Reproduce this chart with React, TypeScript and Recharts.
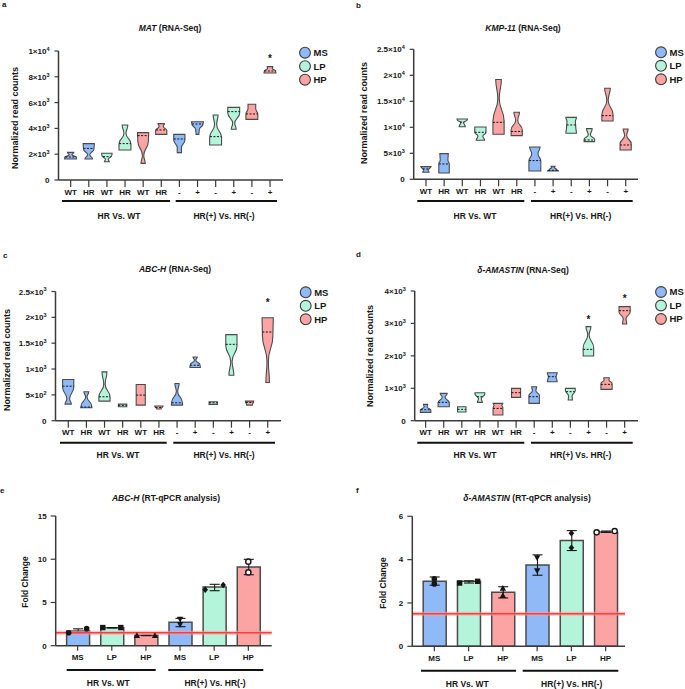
import React from 'react';
import { ComposedChart, Bar, XAxis, YAxis, Scatter, ErrorBar, ReferenceLine, Cell } from 'recharts';

const FONT = '"Liberation Sans", Arial, Helvetica, sans-serif';
const INK = '#161616';
const AXIS = '#3a3a3a';
const COLORS: Record<string, string> = { MS: '#8fb9f7', LP: '#b4f4db', HP: '#fca4a4' };

// ---------- RNA-Seq violin panels ----------
const violinTickLabels = ['WT', 'HR', 'WT', 'HR', 'WT', 'HR', '-', '+', '-', '+', '-', '+'];
const violinGroups = ['MS', 'MS', 'LP', 'LP', 'HP', 'HP', 'MS', 'MS', 'LP', 'LP', 'HP', 'HP'];

// each violin: [value, relative density width] from bottom to top
const matProfiles: number[][][] = [
  [[1630, 0.85], [1750, 0.85], [1950, 0.2], [2140, 0.45]],
  [[1630, 0.55], [1950, 0.15], [2400, 0.75], [2820, 0.8]],
  [[1420, 0.35], [1600, 0.2], [1900, 0.7], [2070, 0.75]],
  [[2330, 0.85], [2800, 0.85], [3600, 0.15], [4260, 0.4]],
  [[1290, 0.3], [1900, 0.1], [3000, 0.75], [3670, 0.8]],
  [[3540, 0.8], [3850, 0.8], [4150, 0.3], [4370, 0.45]],
  [[2120, 0.3], [2500, 0.3], [3100, 0.8], [3540, 0.8]],
  [[3540, 0.2], [3900, 0.25], [4350, 0.8], [4520, 0.85]],
  [[2710, 0.85], [3300, 0.85], [4300, 0.15], [5040, 0.35]],
  [[3930, 0.35], [4400, 0.15], [5200, 0.85], [5630, 0.85]],
  [[4700, 0.85], [5100, 0.85], [5550, 0.55], [5870, 0.55]],
  [[8290, 0.85], [8450, 0.8], [8650, 0.35], [8790, 0.4]],
];
const matMedians = [1780, 2450, 1810, 2820, 3440, 3880, 3180, 4340, 3360, 5300, 5120, 8450];
const matStars: Record<number, number> = { 11: 9560 };

const kmpProfiles: number[][][] = [
  [[1350, 0.45], [1800, 0.3], [2200, 0.6], [2440, 0.75]],
  [[1220, 0.75], [2900, 0.75], [3700, 0.55], [4940, 0.6]],
  [[10100, 0.45], [10900, 0.2], [11400, 0.7], [11600, 0.75]],
  [[7500, 0.6], [8300, 0.35], [9000, 0.8], [10060, 0.8]],
  [[8650, 0.8], [11200, 0.8], [15500, 0.1], [19200, 0.4]],
  [[8400, 0.8], [9500, 0.8], [11300, 0.15], [12900, 0.4]],
  [[1600, 0.85], [3500, 0.85], [4900, 0.45], [6200, 0.75]],
  [[1600, 0.8], [1900, 0.5], [2300, 0.15], [2500, 0.3]],
  [[8850, 0.75], [10200, 0.65], [11100, 0.6], [11900, 0.75]],
  [[7240, 0.75], [7700, 0.75], [8500, 0.15], [9740, 0.4]],
  [[11200, 0.8], [12400, 0.8], [15200, 0.1], [17500, 0.4]],
  [[5640, 0.8], [6800, 0.8], [8400, 0.15], [9680, 0.35]],
];
const kmpMedians = [2000, 2950, 11000, 9040, 10960, 9200, 3600, 1730, 10450, 7560, 12240, 6600];
const kmpStars: Record<number, number> = {};

const abcSeqProfiles: number[][][] = [
  [[321, 0.45], [420, 0.2], [650, 0.8], [797, 0.8]],
  [[251, 0.8], [290, 0.75], [460, 0.1], [559, 0.35]],
  [[379, 0.8], [460, 0.8], [700, 0.1], [945, 0.35]],
  [[270, 0.6], [321, 0.6]],
  [[302, 0.65], [700, 0.65]],
  [[225, 0.3], [283, 0.6]],
  [[302, 0.8], [360, 0.75], [560, 0.1], [720, 0.3]],
  [[1028, 0.75], [1080, 0.7], [1170, 0.1], [1234, 0.3]],
  [[315, 0.6], [366, 0.6]],
  [[880, 0.35], [1150, 0.1], [1450, 0.8], [1665, 0.8]],
  [[302, 0.4], [379, 0.6]],
  [[739, 0.25], [1150, 0.1], [1650, 0.75], [1992, 0.8]],
];
const abcSeqMedians = [668, 264, 463, 296, 495, 257, 347, 1073, 347, 1478, 353, 1716];
const abcSeqStars: Record<number, number> = { 11: 2326 };

const amaSeqProfiles: number[][][] = [
  [[257, 0.75], [330, 0.75], [420, 0.2], [504, 0.3]],
  [[432, 0.8], [560, 0.8], [720, 0.2], [843, 0.5]],
  [[267, 0.6], [432, 0.6]],
  [[566, 0.35], [680, 0.2], [820, 0.7], [864, 0.7]],
  [[175, 0.7], [400, 0.7], [480, 0.55], [535, 0.7]],
  [[720, 0.65], [997, 0.65]],
  [[535, 0.75], [780, 0.75], [920, 0.25], [1049, 0.35]],
  [[1203, 0.7], [1350, 0.55], [1481, 0.7]],
  [[638, 0.3], [760, 0.25], [930, 0.7], [997, 0.7]],
  [[1995, 0.75], [2250, 0.75], [2650, 0.1], [2900, 0.35]],
  [[967, 0.8], [1150, 0.8], [1250, 0.35], [1326, 0.4]],
  [[2982, 0.3], [3150, 0.2], [3350, 0.8], [3517, 0.8]],
];
const amaSeqMedians = [339, 566, 350, 740, 380, 864, 740, 1357, 895, 2200, 1121, 3393];
const amaSeqStars: Record<number, number> = { 9: 3188, 11: 3846 };

const matTicks = [0, 2000, 4000, 6000, 8000, 10000];
const kmpTicks = [0, 5000, 10000, 15000, 20000, 25000];
const abcSeqTicks = [0, 500, 1000, 1500, 2000, 2500];
const amaSeqTicks = [0, 1000, 2000, 3000, 4000];

// ---------- RT-qPCR bar panels ----------
const barCategories = ['MS', 'LP', 'HP', 'MS', 'LP', 'HP'];
const barMarkers = ['circle', 'square', 'tri', 'triDown', 'diamond', 'open'];

const abcMean = [1.7, 2.08, 1.2, 2.7, 6.79, 9.1];
const abcRep1 = [1.5, 2.1, 1.18, 3.08, 6.48, 9.72];
const abcRep2 = [1.97, 2.1, 1.18, 2.47, 7.02, 8.48];
const abcErrLow = [1.5, 2.05, 1.16, 2.2, 6.36, 8.21];
const abcErrHigh = [1.95, 2.1, 1.2, 3.16, 7.1, 9.99];
const abcJitter = [[-9, 9], [-9, 9], [-9, 9], [0, 0], [-9, 9], [0, 0]];
const abcTicks = [0, 5, 10, 15];

const amaMean = [3.0, 3.0, 2.49, 3.75, 4.88, 5.28];
const amaRep1 = [3.11, 2.92, 2.68, 4.09, 5.22, 5.26];
const amaRep2 = [2.88, 3.0, 2.34, 3.49, 4.55, 5.32];
const amaErrLow = [2.82, 2.92, 2.23, 3.28, 4.42, 5.26];
const amaErrHigh = [3.2, 3.02, 2.75, 4.22, 5.34, 5.32];
const amaJitter = [[0, 0], [-9, 9], [0, 0], [0, 0], [0, 0], [-9, 9]];
const amaTicks = [0, 2, 4, 6];

const threshold = 1.5;

// ---------- helpers ----------
const buildViolinRows = (profiles: number[][][], medians: number[], stars: Record<number, number>) =>
  profiles.map((p, i) => ({
    id: i,
    label: violinTickLabels[i],
    color: COLORS[violinGroups[i]],
    profile: p,
    median: medians[i],
    star: stars[i] ?? null,
    range: [p[0][0], p[p.length - 1][0]],
  }));

const buildBarRows = (mean: number[], r1: number[], r2: number[], lo: number[], hi: number[]) =>
  mean.map((m, i) => ({
    id: i,
    label: barCategories[i],
    color: COLORS[barCategories[i]],
    mean: m,
    rep1: r1[i],
    rep2: r2[i],
    err: [m - lo[i], hi[i] - m],
  }));

const sci = (v: number) => {
  if (v === 0) return { m: '0', e: null as string | null };
  const e = Math.floor(Math.log10(v) + 1e-9);
  const m = +(v / Math.pow(10, e)).toFixed(2);
  return { m: String(m), e: String(e) };
};

const SciTick = (props: any) => {
  const { x, y, payload } = props;
  const { m, e } = sci(payload.value);
  return (
    <text x={x} y={y} dy={3} textAnchor="end" fontFamily={FONT} fontSize={8} fontWeight={700} fill={INK}>
      {m}
      {e !== null && '×10'}
      {e !== null && (
        <tspan dy={-3.3} fontSize={5.5}>
          {e}
        </tspan>
      )}
    </text>
  );
};

const HALF = 7;

const ViolinShape = (props: any) => {
  const { x, y, width, height, payload } = props;
  if (!payload || x == null) return null;
  const prof: number[][] = payload.profile;
  const lo = prof[0][0];
  const hi = prof[prof.length - 1][0];
  const top = Math.min(y, y + height);
  const bot = Math.max(y, y + height);
  const pix = (v: number) => (hi === lo ? (top + bot) / 2 : bot - ((v - lo) / (hi - lo)) * (bot - top));
  const cx = x + width / 2;
  const pts = prof.map(([v, w]) => [w * HALF, pix(v)]);
  const n = pts.length;
  let d = `M${cx - pts[0][0]},${pts[0][1]}`;
  for (let i = 1; i < n; i++) {
    const [w0, y0] = pts[i - 1];
    const [w1, y1] = pts[i];
    const ym = (y0 + y1) / 2;
    d += ` C${cx - w0},${ym} ${cx - w1},${ym} ${cx - w1},${y1}`;
  }
  d += ` L${cx + pts[n - 1][0]},${pts[n - 1][1]}`;
  for (let i = n - 1; i > 0; i--) {
    const [w0, y0] = pts[i];
    const [w1, y1] = pts[i - 1];
    const ym = (y0 + y1) / 2;
    d += ` C${cx + w0},${ym} ${cx + w1},${ym} ${cx + w1},${y1}`;
  }
  d += ' Z';
  const med = payload.median;
  let wm = prof[0][1];
  for (let i = 1; i < n; i++) {
    if (med <= prof[i][0]) {
      const t = (med - prof[i - 1][0]) / (prof[i][0] - prof[i - 1][0] || 1);
      wm = prof[i - 1][1] + t * (prof[i][1] - prof[i - 1][1]);
      break;
    }
    wm = prof[i][1];
  }
  const my = pix(med);
  return (
    <g>
      <path d={d} fill={payload.color} stroke="#4a4a4a" strokeWidth={1.1} />
      <line x1={cx - wm * HALF} x2={cx + wm * HALF} y1={my} y2={my} stroke="#111" strokeWidth={1} strokeDasharray="2 1.5" />
      {payload.star != null && (
        <text x={cx} y={pix(payload.star) + 5.8} textAnchor="middle" fontFamily={FONT} fontSize={10} fontWeight={700} fill={INK}>
          *
        </text>
      )}
    </g>
  );
};

const Marker = ({ cx, cy, kind }: { cx: number; cy: number; kind: string }) => {
  switch (kind) {
    case 'circle':
      return <circle cx={cx} cy={cy} r={2.8} fill={INK} />;
    case 'square':
      return <rect x={cx - 2.7} y={cy - 2.7} width={5.4} height={5.4} fill={INK} />;
    case 'tri':
      return <path d={`M${cx},${cy - 3.3}L${cx + 3.2},${cy + 2.4}L${cx - 3.2},${cy + 2.4}Z`} fill={INK} />;
    case 'triDown':
      return <path d={`M${cx},${cy + 3.3}L${cx + 3.2},${cy - 2.4}L${cx - 3.2},${cy - 2.4}Z`} fill={INK} />;
    case 'diamond':
      return <path d={`M${cx},${cy - 3.3}L${cx + 2.8},${cy}L${cx},${cy + 3.3}L${cx - 2.8},${cy}Z`} fill={INK} />;
    default:
      return <circle cx={cx} cy={cy} r={2.6} fill="#fff" stroke={INK} strokeWidth={1.4} />;
  }
};

const tickStyle = { fontSize: 8, fontWeight: 700, fill: INK, fontFamily: FONT };

type Geo = {
  left: number; top: number; w: number; h: number; mTop: number; mRight: number;
  yW: number; xH: number; padL: number; padR: number; yMax: number;
};

const ViolinPanel = ({ geo, rows, ticks }: { geo: Geo; rows: any[]; ticks: number[] }) => (
  <div style={{ position: 'absolute', left: geo.left, top: geo.top }}>
    <ComposedChart width={geo.w} height={geo.h} data={rows} margin={{ top: geo.mTop, right: geo.mRight, left: 0, bottom: 0 }}>
      <XAxis
        dataKey="id"
        type="category"
        interval={0}
        height={geo.xH}
        padding={{ left: geo.padL, right: geo.padR }}
        tickFormatter={(v: any) => violinTickLabels[v]}
        tick={tickStyle}
        tickSize={7}
        tickMargin={2}
        axisLine={{ stroke: AXIS, strokeWidth: 1.5 }}
        tickLine={{ stroke: AXIS, strokeWidth: 1.2 }}
      />
      <YAxis
        type="number"
        domain={[0, geo.yMax]}
        ticks={ticks}
        interval={0}
        width={geo.yW}
        allowDataOverflow
        tick={<SciTick />}
        tickSize={4}
        tickMargin={5}
        axisLine={{ stroke: AXIS, strokeWidth: 1.5 }}
        tickLine={{ stroke: AXIS, strokeWidth: 1.2 }}
      />
      <Bar dataKey="range" barSize={14} shape={<ViolinShape />} isAnimationActive={false} />
    </ComposedChart>
  </div>
);

const BarPanel = ({ geo, rows, ticks, jitter }: { geo: Geo; rows: any[]; ticks: number[]; jitter: number[][] }) => (
  <div style={{ position: 'absolute', left: geo.left, top: geo.top }}>
    <ComposedChart width={geo.w} height={geo.h} data={rows} margin={{ top: geo.mTop, right: geo.mRight, left: 0, bottom: 0 }}>
      <XAxis
        dataKey="id"
        type="category"
        interval={0}
        height={geo.xH}
        padding={{ left: geo.padL, right: geo.padR }}
        tickFormatter={(v: any) => barCategories[v]}
        tick={tickStyle}
        tickSize={5}
        tickMargin={4}
        axisLine={{ stroke: AXIS, strokeWidth: 1.5 }}
        tickLine={{ stroke: AXIS, strokeWidth: 1.2 }}
      />
      <YAxis
        type="number"
        domain={[0, geo.yMax]}
        ticks={ticks}
        interval={0}
        width={geo.yW}
        allowDataOverflow
        tick={tickStyle}
        tickSize={5}
        tickMargin={4}
        axisLine={{ stroke: AXIS, strokeWidth: 1.5 }}
        tickLine={{ stroke: AXIS, strokeWidth: 1.2 }}
      />
      <Bar dataKey="mean" barSize={23} stroke="#4a4a4a" strokeWidth={1.5} isAnimationActive={false}>
        {rows.map((r) => (
          <Cell key={r.id} fill={r.color} />
        ))}
        <ErrorBar dataKey="err" width={5} stroke={INK} strokeWidth={1.1} direction="y" isAnimationActive={false} />
      </Bar>
      <ReferenceLine y={threshold} stroke="#ff9c9c" strokeOpacity={0.6} strokeWidth={4} />
      <ReferenceLine y={threshold} stroke="#ff3b3b" strokeWidth={1.4} />
      <Scatter
        dataKey="rep1"
        isAnimationActive={false}
        shape={(p: any) => <Marker cx={p.cx + jitter[p.payload.id][0]} cy={p.cy} kind={barMarkers[p.payload.id]} />}
      />
      <Scatter
        dataKey="rep2"
        isAnimationActive={false}
        shape={(p: any) => <Marker cx={p.cx + jitter[p.payload.id][1]} cy={p.cy} kind={barMarkers[p.payload.id]} />}
      />
    </ComposedChart>
  </div>
);

const T = (p: any) => (
  <text fontFamily={FONT} fontWeight={700} fill={INK} fontSize={8.5} textAnchor="middle" {...p} />
);

const Title = ({ x, y, gene, rest }: { x: number; y: number; gene: string; rest: string }) => (
  <T x={x} y={y}>
    <tspan fontStyle="italic">{gene}</tspan>
    {rest}
  </T>
);

const YLabel = ({ x, y, text, size }: { x: number; y: number; text: string; size: number }) => (
  <T x={x} y={y} fontSize={size} dominantBaseline="central" transform={`rotate(-90 ${x} ${y})`}>
    {text}
  </T>
);

const Legend3 = ({ x, y }: { x: number; y: number }) => (
  <g>
    {['MS', 'LP', 'HP'].map((k, i) => (
      <g key={k}>
        <circle cx={x} cy={y + i * 13.5} r={5.4} fill={COLORS[k]} stroke="#3a3a3a" strokeWidth={1.1} />
        <T x={x + 8.5} y={y + i * 13.5 + 3.4} fontSize={9.5} textAnchor="start">
          {k}
        </T>
      </g>
    ))}
  </g>
);

const Groups = ({ y, ty, segs }: { y: number; ty: number; segs: number[][] }) => (
  <g>
    {segs.map((s, i) => (
      <line key={'l' + i} x1={s[0]} x2={s[1]} y1={y} y2={y} stroke="#111" strokeWidth={2} />
    ))}
    <T x={segs[0][2]} y={ty}>HR Vs. WT</T>
    <T x={segs[1][2]} y={ty}>HR(+) Vs. HR(-)</T>
  </g>
);

const geoA: Geo = { left: 0, top: 0, w: 290, h: 200, mTop: 51, mRight: 7, yW: 58.5, xH: 20, padL: 3.1, padR: 3.9, yMax: 10000 };
const geoB: Geo = { left: 340, top: 0, w: 300, h: 200, mTop: 49.3, mRight: 2, yW: 73.7, xH: 20.7, padL: 3.2, padR: 3.2, yMax: 25000 };
const geoC: Geo = { left: 0, top: 240, w: 290, h: 200, mTop: 51.5, mRight: 9, yW: 55.5, xH: 19.3, padL: 3.7, padR: 4.2, yMax: 2500 };
const geoD: Geo = { left: 340, top: 240, w: 300, h: 200, mTop: 51, mRight: 2, yW: 74.7, xH: 19.3, padL: 1.9, padR: 4.3, yMax: 4000 };
const geoE: Geo = { left: 0, top: 480, w: 280, h: 185, mTop: 36, mRight: 8.3, yW: 55.7, xH: 19.3, padL: 4.9, padR: 6.3, yMax: 15 };
const geoF: Geo = { left: 340, top: 480, w: 290, h: 185, mTop: 36.3, mRight: 5, yW: 72.3, xH: 18.7, padL: 4.9, padR: 2.2, yMax: 6 };

export default function App() {
  const rowsA = buildViolinRows(matProfiles, matMedians, matStars);
  const rowsB = buildViolinRows(kmpProfiles, kmpMedians, kmpStars);
  const rowsC = buildViolinRows(abcSeqProfiles, abcSeqMedians, abcSeqStars);
  const rowsD = buildViolinRows(amaSeqProfiles, amaSeqMedians, amaSeqStars);
  const rowsE = buildBarRows(abcMean, abcRep1, abcRep2, abcErrLow, abcErrHigh);
  const rowsF = buildBarRows(amaMean, amaRep1, amaRep2, amaErrLow, amaErrHigh);
  return (
    <div style={{ position: 'absolute', left: 0, top: 0, width: 685, height: 689, background: '#fff', overflow: 'hidden' }}>
      <ViolinPanel geo={geoA} rows={rowsA} ticks={matTicks} />
      <ViolinPanel geo={geoB} rows={rowsB} ticks={kmpTicks} />
      <ViolinPanel geo={geoC} rows={rowsC} ticks={abcSeqTicks} />
      <ViolinPanel geo={geoD} rows={rowsD} ticks={amaSeqTicks} />
      <BarPanel geo={geoE} rows={rowsE} ticks={abcTicks} jitter={abcJitter} />
      <BarPanel geo={geoF} rows={rowsF} ticks={amaTicks} jitter={amaJitter} />
      <svg width={685} height={689} style={{ position: 'absolute', left: 0, top: 0, pointerEvents: 'none' }}>
        <T x={2} y={7} textAnchor="start" fontSize={8}>a</T>
        <T x={356} y={8} textAnchor="start" fontSize={8}>b</T>
        <T x={3} y={258} textAnchor="start" fontSize={8}>c</T>
        <T x={356} y={256.5} textAnchor="start" fontSize={8}>d</T>
        <T x={0} y={493} textAnchor="start" fontSize={8}>e</T>
        <T x={356} y={493} textAnchor="start" fontSize={8}>f</T>

        <Title x={170} y={31} gene="MAT" rest=" (RNA-Seq)" />
        <Title x={523} y={31} gene="KMP-11" rest=" (RNA-Seq)" />
        <Title x={175} y={272} gene="ABC-H" rest=" (RNA-Seq)" />
        <Title x={523} y={272.5} gene="δ-AMASTIN" rest=" (RNA-Seq)" />
        <Title x={166} y={500.5} gene="ABC-H" rest=" (RT-qPCR analysis)" />
        <Title x={527} y={500.5} gene="δ-AMASTIN" rest="  (RT-qPCR analysis)" />

        <YLabel x={15} y={118} size={9} text="Normalized read counts" />
        <YLabel x={363.5} y={113} size={9} text="Normalized read counts" />
        <YLabel x={6.5} y={360} size={9} text="Normalized read counts" />
        <YLabel x={369.5} y={356} size={9} text="Normalized read counts" />
        <YLabel x={25} y={582} size={8.5} text="Fold Change" />
        <YLabel x={382.5} y={583} size={8.5} text="Fold Change" />

        <Legend3 x={305} y={52.7} />
        <Legend3 x={661} y={52.3} />
        <Legend3 x={305.7} y={292.3} />
        <Legend3 x={661} y={292} />

        <Groups y={201} ty={218.5} segs={[[62, 170, 119], [175.7, 277, 224]]} />
        <Groups y={201} ty={218.5} segs={[[417.3, 524.3, 475], [531, 632.7, 580.7]]} />
        <Groups y={442.7} ty={458.3} segs={[[60, 166.7, 118], [173.3, 275, 224]]} />
        <Groups y={442.7} ty={458.3} segs={[[417.3, 524.3, 475], [531, 632.7, 580.7]]} />
        <Groups y={670} ty={686} segs={[[66.7, 155.7, 108.3], [168.3, 263.3, 215]]} />
        <Groups y={670.7} ty={686.5} segs={[[421, 516, 467.3], [522.7, 618.3, 571.7]]} />
      </svg>
    </div>
  );
}
